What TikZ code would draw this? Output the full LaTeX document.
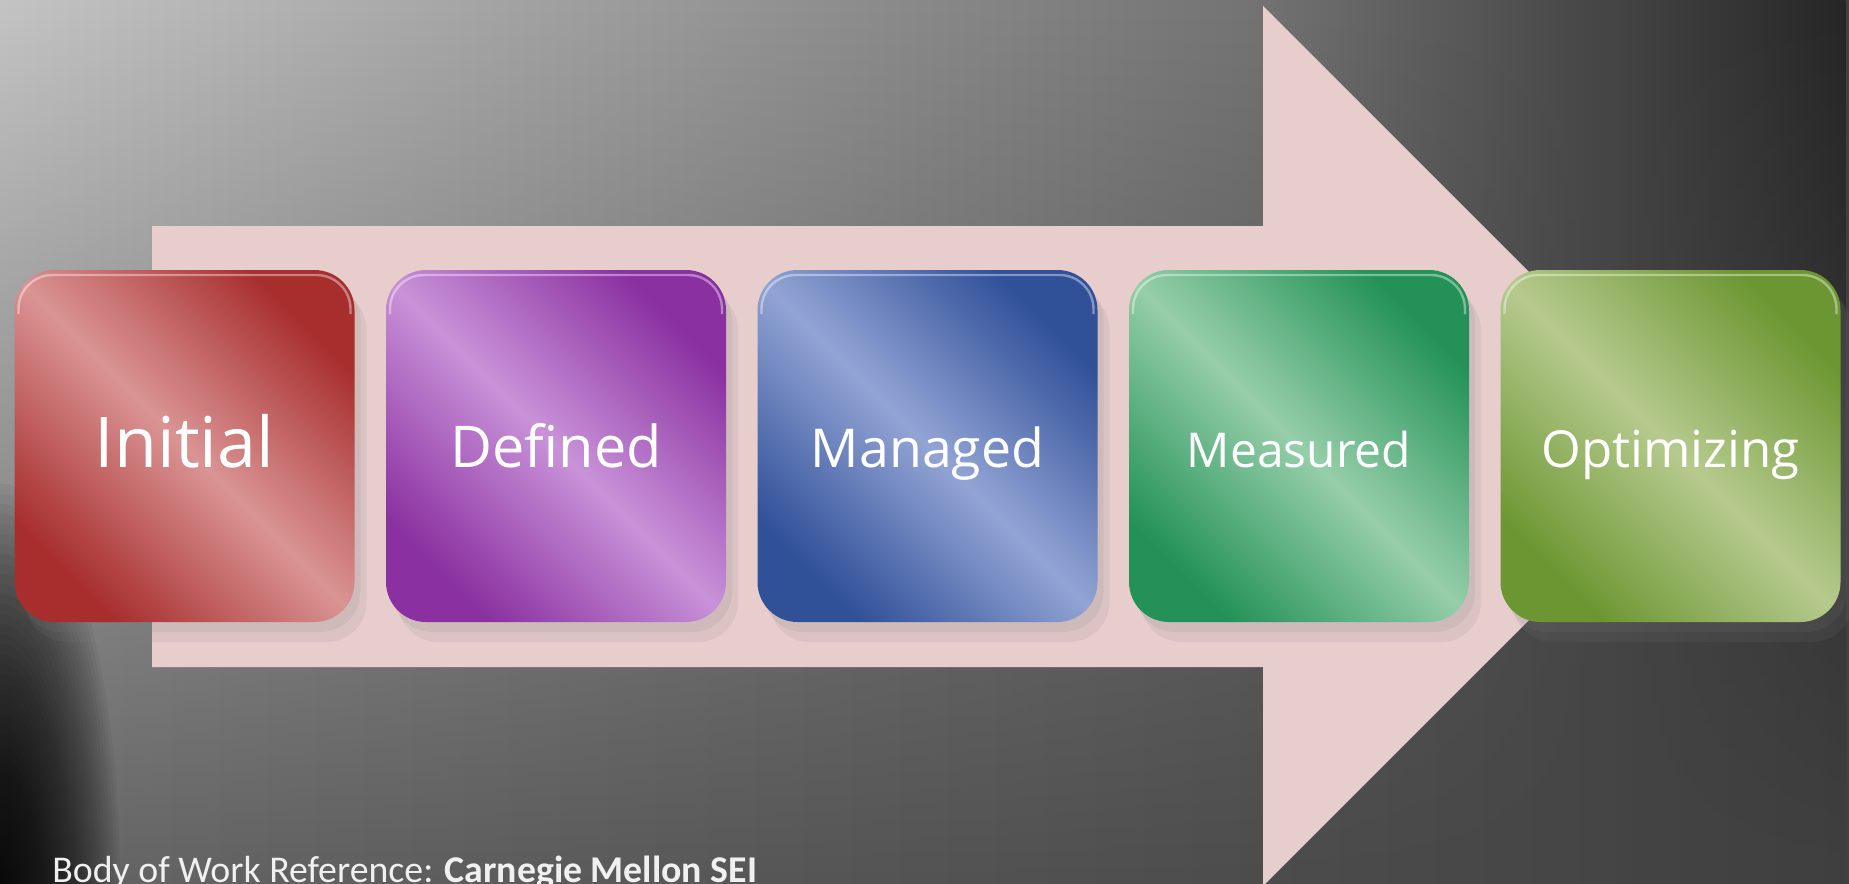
\documentclass[tikz,border=0pt]{standalone}
\usepackage{fontspec}
\setmainfont{Carlito}
\newfontfamily\stagefont{Open Sans}
\usetikzlibrary{shadows,fadings}

\definecolor{bgTopL}{RGB}{196,196,196}
\definecolor{bgTopM}{RGB}{116,116,116}
\definecolor{bgTopR}{RGB}{38,38,38}
\definecolor{bgBotL}{RGB}{102,102,102}
\definecolor{bgBotM}{RGB}{94,94,94}
\definecolor{bgBotR}{RGB}{64,64,64}
\definecolor{arrowPink}{RGB}{232,205,205}
\definecolor{initDark}{RGB}{168,46,46}
\definecolor{initLight}{RGB}{218,148,148}
\definecolor{defDark}{RGB}{138,48,160}
\definecolor{defLight}{RGB}{200,146,216}
\definecolor{manDark}{RGB}{48,80,152}
\definecolor{manLight}{RGB}{146,164,212}
\definecolor{measDark}{RGB}{36,146,88}
\definecolor{measLight}{RGB}{150,206,170}
\definecolor{optDark}{RGB}{108,150,50}
\definecolor{optLight}{RGB}{182,202,142}

\pgfdeclarehorizontalshading{bgtop}{100bp}{color(0bp)=(bgTopL); color(25bp)=(bgTopL);
	color(59bp)=(bgTopM); color(75bp)=(bgTopR); color(100bp)=(bgTopR)}

\tikzset{
	stage/.style 2 args={rectangle, rounded corners=20pt,
		minimum width=170pt, minimum height=176pt, inner sep=0pt,
		text=white, text height=21pt, text depth=0pt,
		left color=#1, right color=#1, middle color=#2, shading angle=-45,
		drop shadow={opacity=0.12, shadow xshift=3pt, shadow yshift=-5pt},
		drop shadow={opacity=0.12, shadow xshift=6pt, shadow yshift=-10pt},
		path picture={\draw[white, opacity=0.4, line width=1.2pt, rounded corners=17pt]
			([xshift=2pt, yshift=-22pt]path picture bounding box.north west)
			|- ([yshift=-2.5pt]path picture bounding box.north)
			-| ([xshift=-2pt, yshift=-22pt]path picture bounding box.north east);}}
}

\begin{document}
\begin{tikzpicture}[x=0.5pt, y=-0.5pt]
		\useasboundingbox (0,0) rectangle (1849,884);
		% background
		\shade[left color=bgBotL, middle color=bgBotM, right color=bgBotR] (0,0) rectangle (1849,884);
		\shade[shading=bgtop, path fading=south] (0,0) rectangle (1849,884);
		% dark corner, bottom left
		\foreach \r in {1,...,40}
			\fill[black, opacity=0.045] (0,884) ellipse ({3*\r} and {10*\r});
		% big arrow
		\fill[arrowPink] (152,226) -- (1263,226) -- (1263,6) -- (1703,446)
			-- (1263,886) -- (1263,667) -- (152,667) -- cycle;
		% stages
		\node[stage={initDark}{initLight}, font=\stagefont\fontsize{35}{40}\selectfont] (init) at (184.5,446) {Initial};
		\node[stage={defDark}{defLight}, font=\stagefont\fontsize{28.8}{34}\selectfont] (def) at (556,446) {Defined};
		\node[stage={manDark}{manLight}, font=\stagefont\fontsize{26.8}{32}\selectfont] (man) at (927.5,446) {Managed};
		\node[stage={measDark}{measLight}, font=\stagefont\fontsize{24}{29}\selectfont] (meas) at (1299,446) {Measured};
		\node[stage={optDark}{optLight}, font=\stagefont\fontsize{25.5}{30}\selectfont] (opt) at (1670.5,446) {Optimizing};
		% source
		\node[anchor=base west, inner sep=0pt, text=white!94!black, font=\fontsize{18.9}{22}\selectfont] (src) at (52,882)
			{Body of Work Reference: \textbf{Carnegie Mellon SEI}};
	\end{tikzpicture}
\end{document}
